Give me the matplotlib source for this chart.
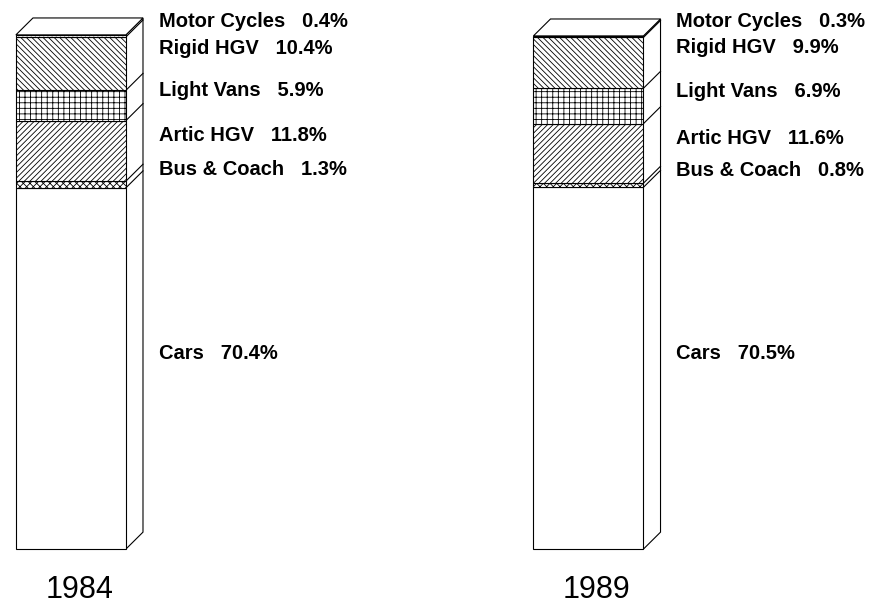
import numpy as np
import matplotlib
matplotlib.use("Agg")
import matplotlib.pyplot as plt
from matplotlib.patches import Polygon

plt.rcParams['font.family'] = ['Liberation Sans', 'DejaVu Sans']
plt.rcParams['hatch.linewidth'] = 0.6

# traffic share by vehicle type (bottom to top of each stack)
categories = ["Cars", "Bus & Coach", "Artic HGV", "Light Vans", "Rigid HGV", "Motor Cycles"]
share_1984 = [70.4, 1.3, 11.8, 5.9, 10.4, 0.4]
share_1989 = [70.5, 0.8, 11.6, 6.9, 9.9, 0.3]
years = ["1984", "1989"]

hatches = ["", "xxxxx", "//////", "+++", "\\\\\\\\\\\\", "...."]

fig = plt.figure(figsize=(8.71, 6.05), dpi=100)
ax = fig.add_axes([0, 0, 1, 1])
ax.set_xlim(-0.137, 1.546)
ax.set_ylim(-10.9, 107.0)
ax.axis("off")

width = 0.2126
dx, dy = 0.033, 3.3   # depth of the 3-D box
lw = 0.8
min_gap = 4.9

for i, (year, vals) in enumerate(zip(years, [share_1984, share_1989])):
    vals = np.array(vals)
    tops = np.cumsum(vals)
    bottoms = tops - vals
    bars = ax.bar(i, vals, width, bottom=bottoms, color="white",
                  edgecolor="black", linewidth=lw, zorder=2)
    for b, h in zip(bars, hatches):
        b.set_hatch(h)

    x0, x1 = i - width / 2, i + width / 2
    total = tops[-1]
    ax.add_patch(Polygon([(x1, 0), (x1 + dx, dy), (x1 + dx, total + dy), (x1, total)],
                         closed=True, fc="white", ec="black", lw=lw, zorder=1))
    ax.add_patch(Polygon([(x0, total), (x0 + dx, total + dy), (x1 + dx, total + dy), (x1, total)],
                         closed=True, fc="white", ec="black", lw=lw, zorder=1))
    for t in tops[:-1]:
        ax.plot([x1, x1 + dx], [t, t + dy], color="black", lw=lw, zorder=1)

    # labels beside the box, pushed apart where segments are thin
    label_y = bottoms + vals / 2 + 2.9
    for k in range(len(label_y) - 2, -1, -1):
        label_y[k] = min(label_y[k], label_y[k + 1] - min_gap)
    for cat, v, y in zip(categories, vals, label_y):
        ax.text(x1 + 0.063, y, f"{cat}   {v:.1f}%", ha="left", va="center",
                fontsize=14.5, fontweight="bold")

    ax.text(i + dx / 2, -8.0, year, ha="center", va="center", fontsize=22)

fig.savefig("out.png", dpi=100)
